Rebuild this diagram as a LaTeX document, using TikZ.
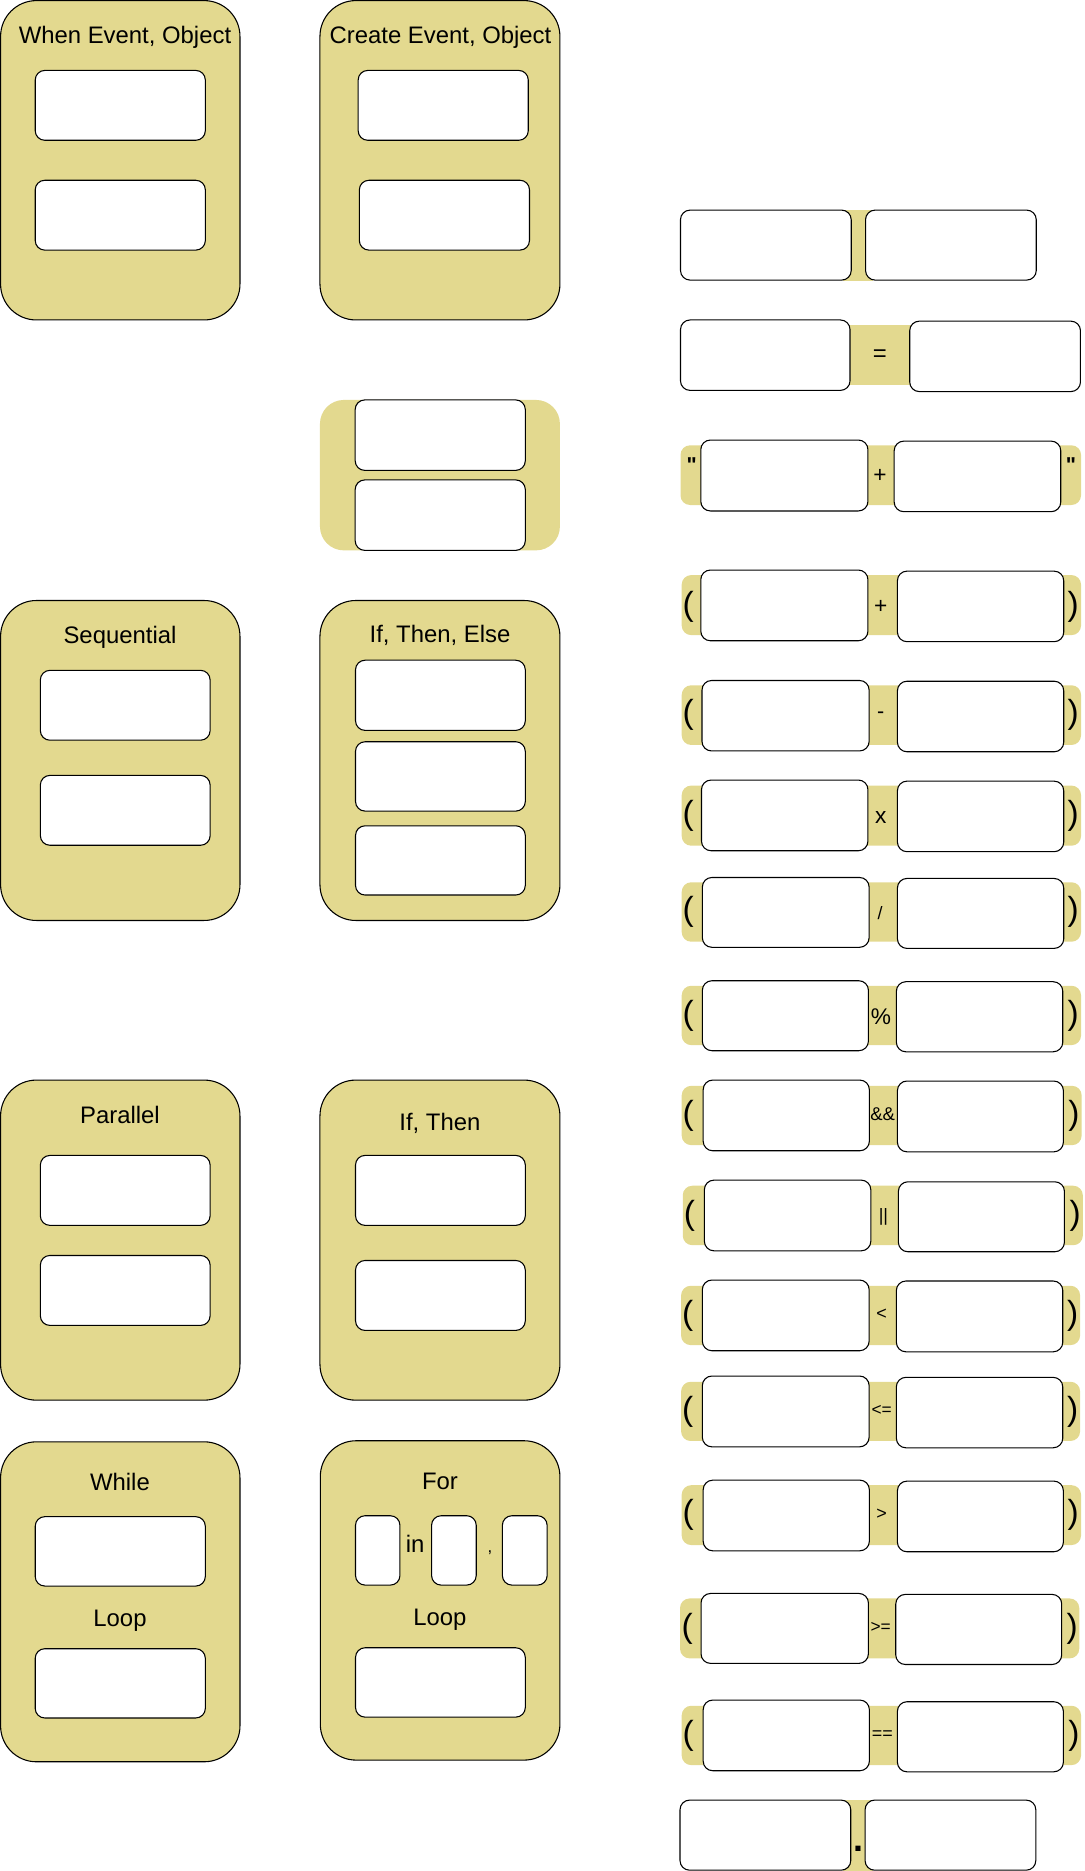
\documentclass[tikz,border=0pt]{standalone}
\usepackage{fontspec}
\setmainfont{Liberation Sans}
\newfontfamily\qfont{Liberation Sans}
\definecolor{ylw}{HTML}{E3D98F}
\tikzset{
 big/.style={draw=black, fill=ylw, rounded corners=30pt, line width=0.9pt, inner sep=0pt, outer sep=0pt},
 ibox/.style={draw=black, fill=white, rounded corners=8pt, line width=0.9pt, inner sep=0pt, outer sep=0pt},
 ystrip/.style={fill=ylw, draw=none, rounded corners=8pt, inner sep=0pt, outer sep=0pt},
 ybar/.style={fill=ylw, draw=none, inner sep=0pt, outer sep=0pt},
 ttl/.style={font=\fontsize{20}{22}\selectfont, anchor=base, inner sep=0pt},
 op/.style={font=\fontsize{#1}{#1}\selectfont, inner sep=0pt},
 paren/.style={font=\fontsize{28}{30}\selectfont, inner sep=0pt},
 quot/.style={font=\fontsize{18}{18}\selectfont\qfont\bfseries, anchor=base, inner sep=0pt},
}
\newcommand\mkbox[6]{\node[#6, anchor=north west, minimum width={(#4)-(#2)}, minimum height={(#5)-(#3)}] (#1) at (#2,-#3) {};}
\begin{document}
\begin{tikzpicture}[x=1pt,y=1pt]
\useasboundingbox (0,0) rectangle (908,-1567.2);
% ---- left columns ----
\mkbox{w}{0.5}{0.5}{201}{268}{big}
\node[ttl] (wt) at (104.7,-36.5) {When Event, Object};
\mkbox{w1}{29.5}{59}{172}{117.5}{ibox}
\mkbox{w2}{29.5}{151}{172}{209.5}{ibox}
\mkbox{c}{268}{0.5}{469}{268}{big}
\node[ttl] (ct) at (369,-36.5) {Create Event, Object};
\mkbox{c1}{300}{59}{442.5}{117.5}{ibox}
\mkbox{c2}{301}{151}{443.5}{209.5}{ibox}
\mkbox{g}{268}{335}{469}{461}{ystrip, rounded corners=20pt}
\mkbox{g1}{297.5}{335}{440}{394}{ibox}
\mkbox{g2}{297.5}{402}{440}{461}{ibox}
\mkbox{s}{0.5}{503}{201}{771}{big}
\node[ttl] (st) at (100.5,-539) {Sequential};
\mkbox{s1}{33.8}{561.5}{176}{620}{ibox}
\mkbox{s2}{33.8}{649.5}{176}{708}{ibox}
\mkbox{ite}{268}{503}{469}{771}{big}
\node[ttl] (itet) at (368.6,-538) {If, Then, Else};
\mkbox{ite1}{297.8}{553}{440}{611.8}{ibox}
\mkbox{ite2}{297.8}{621.3}{440}{679.4}{ibox}
\mkbox{ite3}{297.8}{691.7}{440}{749.7}{ibox}
\mkbox{p}{0.5}{904.7}{201}{1172.8}{big}
\node[ttl] (pt) at (100.5,-941) {Parallel};
\mkbox{p1}{33.8}{967.8}{176}{1026.4}{ibox}
\mkbox{p2}{33.8}{1051.6}{176}{1110.2}{ibox}
\mkbox{it}{268}{904.7}{469}{1172.8}{big}
\node[ttl] (itt) at (368.5,-946.6) {If, Then};
\mkbox{it1}{297.8}{967.8}{440}{1026.4}{ibox}
\mkbox{it2}{297.8}{1055.8}{440}{1114.4}{ibox}
\mkbox{wh}{0.5}{1207.7}{201}{1475.7}{big}
\node[ttl] (wht) at (100.5,-1248.7) {While};
\mkbox{wh1}{29.5}{1270.4}{172}{1328.5}{ibox}
\node[ttl] (whl) at (100.5,-1362.6) {Loop};
\mkbox{wh2}{29.5}{1381}{172}{1439}{ibox}
\mkbox{f}{268.3}{1206.8}{469}{1474.3}{big}
\node[ttl] (ft) at (368.5,-1248) {For};
\mkbox{fa}{297.8}{1269.6}{335}{1327.7}{ibox}
\mkbox{fb}{361.5}{1269.6}{398.9}{1327.7}{ibox}
\mkbox{fc}{420.8}{1269.6}{458.3}{1327.7}{ibox}
\node[ttl] (fin) at (347.7,-1300.6) {in};
\node[ttl, font=\fontsize{14}{16}\selectfont] (fcm) at (410.4,-1300.6) {,};
\node[ttl] (fl) at (368.5,-1361.2) {Loop};
\mkbox{f2}{297.8}{1380.2}{440}{1438.3}{ibox}
% ---- right column ----
% A
\mkbox{aS}{706}{176}{731}{235}{ybar}
\mkbox{a1}{570}{176}{713}{234.6}{ibox}
\mkbox{a2}{725}{176}{868}{234.6}{ibox}
% B
\mkbox{bS}{712}{272}{763}{322.7}{ybar}
\mkbox{b1}{570}{268}{712}{327}{ibox}
\mkbox{b2}{762}{269}{905}{328}{ibox}
\node[op=20] (bo) at (737,-297.5) {=};
% C
\mkbox{cS}{570}{373}{905.5}{423}{ystrip}
\mkbox{cc1}{587}{368.6}{727}{428}{ibox}
\mkbox{cc2}{749}{369.5}{888.5}{428.6}{ibox}
\node[quot] (cq1) at (579.4,-396) {"};
\node[quot] (cq2) at (897,-396) {"};
\node[op=19] (co) at (737,-398.8) {+};
% D
\mkbox{dS}{571}{481.7}{905.5}{532}{ystrip}
\mkbox{d1}{587}{477.5}{727}{536.7}{ibox}
\mkbox{d2}{751.7}{478.4}{891}{537.5}{ibox}
\node[paren] (dl) at (576.5,-508) {(};
\node[paren] (dr) at (899,-508) {)};
\node[op=19] (do) at (737.7,-508) {+};
% E
\mkbox{eS}{571}{574}{905.5}{624}{ystrip}
\mkbox{e1}{588}{570}{728}{629}{ibox}
\mkbox{e2}{751.7}{570.6}{891}{629.7}{ibox}
\node[paren] (el) at (576.5,-599) {(};
\node[paren] (er) at (899,-599) {)};
\node[op=18] (eo) at (737.7,-599.5) {-};
% F
\mkbox{fS}{571}{658}{905.5}{708.4}{ystrip}
\mkbox{ff1}{587.6}{653.4}{727}{712.6}{ibox}
\mkbox{ff2}{751.7}{654.3}{891}{713.4}{ibox}
\node[paren] (fl2) at (576.5,-683.2) {(};
\node[paren] (fr) at (899,-683.2) {)};
\node[op=19] (fo) at (737.7,-685) {x};
% G
\mkbox{gS}{571}{739}{905.5}{788.8}{ystrip}
\mkbox{gg1}{588.3}{735}{728}{793.5}{ibox}
\mkbox{gg2}{751.7}{735.8}{891}{794.4}{ibox}
\node[paren] (gl) at (576.5,-764) {(};
\node[paren] (gr) at (899,-764) {)};
\node[op=15] (go) at (737.2,-765) {/};
% H
\mkbox{hS}{571}{825.7}{905.5}{875.4}{ystrip}
\mkbox{h1}{588.3}{821.5}{727.4}{880.1}{ibox}
\mkbox{h2}{750.8}{822.3}{890.2}{881}{ibox}
\node[paren] (hl) at (576.5,-850.5) {(};
\node[paren] (hr) at (899,-850.5) {)};
\node[op=19] (ho) at (738,-851.6) {\%};
% I
\mkbox{iS}{571}{909.5}{906}{959.2}{ystrip}
\mkbox{i1}{589}{904.7}{728.2}{963.9}{ibox}
\mkbox{i2}{751.7}{905.5}{890.7}{964.8}{ibox}
\node[paren] (il) at (576.5,-934.3) {(};
\node[paren] (ir) at (899.5,-934.3) {)};
\node[op=15.5] (io) at (739.4,-933.5) {\&\&};
% J
\mkbox{jS}{571.9}{993.2}{907}{1043}{ystrip}
\mkbox{j1}{590}{988.5}{729.4}{1047.7}{ibox}
\mkbox{j2}{752.5}{989.9}{891.6}{1048.5}{ibox}
\node[paren] (jl) at (577.5,-1018) {(};
\node[paren] (jr) at (900.5,-1018) {)};
\node[op=15] (jo) at (740,-1019.2) {||};
% K
\mkbox{kS}{570.5}{1077}{904.7}{1126.7}{ystrip}
\mkbox{k1}{588.3}{1072.2}{728}{1131.4}{ibox}
\mkbox{k2}{750.8}{1073}{890.2}{1132.3}{ibox}
\node[paren] (kl) at (576,-1101.8) {(};
\node[paren] (kr) at (898.5,-1101.8) {)};
\node[op=15] (ko) at (738.5,-1100.7) {<};
% L
\mkbox{lS}{570.5}{1157.4}{904.7}{1207}{ystrip}
\mkbox{l1}{588.3}{1152.6}{728}{1211.9}{ibox}
\mkbox{l2}{750.8}{1153.7}{890.2}{1212.7}{ibox}
\node[paren] (ll) at (576,-1182.2) {(};
\node[paren] (lr) at (898.5,-1182.2) {)};
\node[op=14.5] (lo) at (738.5,-1181.1) {<=};
% M
\mkbox{mS}{571}{1244}{905.5}{1294.2}{ystrip}
\mkbox{m1}{589}{1239.8}{728.2}{1299}{ibox}
\mkbox{m2}{751.7}{1240.6}{890.7}{1299.8}{ibox}
\node[paren] (ml) at (576.5,-1269) {(};
\node[paren] (mr) at (899,-1269) {)};
\node[op=15] (mo) at (738.5,-1268.5) {>};
% N
\mkbox{nS}{569.6}{1338.9}{904}{1389.1}{ystrip}
\mkbox{n1}{587.2}{1334.7}{727.4}{1393.3}{ibox}
\mkbox{n2}{750.3}{1335.5}{889.3}{1394.2}{ibox}
\node[paren] (nl) at (575.5,-1364) {(};
\node[paren] (nr) at (898,-1364) {)};
\node[op=14.5] (no) at (737.7,-1363.4) {>=};
% O
\mkbox{oS}{571}{1428.8}{905.5}{1478.5}{ystrip}
\mkbox{o1}{589}{1424}{728.2}{1483.2}{ibox}
\mkbox{o2}{751.7}{1425.4}{890.7}{1484.1}{ibox}
\node[paren] (ol) at (576.5,-1453.6) {(};
\node[paren] (or) at (899.5,-1453.6) {)};
\node[op=15] (oo) at (739,-1453.4) {==};
% P
\mkbox{pS}{706.4}{1508}{731.6}{1567}{ybar}
\mkbox{pp1}{569.6}{1507.8}{712.6}{1566.5}{ibox}
\mkbox{pp2}{724.6}{1507.8}{867.6}{1566.5}{ibox}
\node[op=30, anchor=base, font=\fontsize{30}{30}\selectfont\bfseries] (po) at (719,-1551) {.};
\end{tikzpicture}
\end{document}
